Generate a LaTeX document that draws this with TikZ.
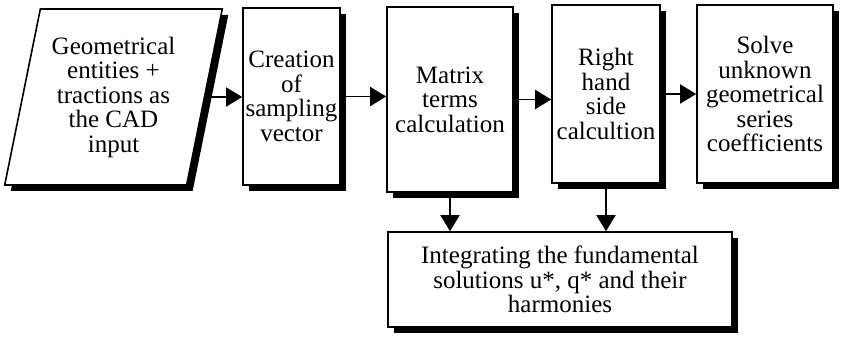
\documentclass[tikz,border=0pt]{standalone}
\usepackage{fontspec}
\setmainfont{Liberation Serif}
\usetikzlibrary{shapes.geometric,arrows.meta,positioning,shadows}

\begin{document}
\begin{tikzpicture}[x=1pt,y=-1pt]
% Define styles
\tikzstyle{base} = [draw=black, line width=1.6pt, fill=white, inner sep=0pt, text centered, align=center, font=\fontsize{25}{24.5}\selectfont, drop shadow={shadow xshift=6pt, shadow yshift=-6pt, opacity=1, fill=black}]
\tikzstyle{process} = [base, rectangle]
\tikzstyle{io} = [base, trapezium, trapezium left angle=76, trapezium right angle=104, trapezium stretches=true]
\tikzstyle{arrow} = [line width=1.6pt, -{Triangle[length=16pt,width=19pt]}]

\useasboundingbox (0,0) rectangle (841,339);

% Draw nodes
\node (cad) [io, minimum width=218pt, minimum height=176pt] at (113.5,97) {Geometrical\\entities +\\tractions as\\the CAD\\input};
\node (creation) [process, minimum width=97pt, minimum height=177pt] at (291.5,96.5) {Creation\\of\\sampling\\vector};
\node (matrix) [process, minimum width=126pt, minimum height=185pt] at (450,99.5) {Matrix\\terms\\calculation};
\node (rhs) [process, minimum width=108pt, minimum height=178pt] at (606,94) {Right\\hand\\side\\calcultion};
\node (solve) [process, minimum width=136pt, minimum height=178pt] at (765,94) {Solve\\unknown\\geometrical\\series\\coefficients};
\node (integ) [process, minimum width=344pt, minimum height=95pt] at (560,279.5) {Integrating the fundamental\\solutions u*, q* and their\\harmonies};

% Draw arrows
\draw [arrow] (cad.east) -- (cad.east -| creation.west);
\draw [arrow] (creation.east) -- (creation.east -| matrix.west);
\draw [arrow] (matrix.east) -- (matrix.east -| rhs.west);
\draw [arrow] (rhs.east) -- (rhs.east -| solve.west);
\draw [arrow] (matrix.south) -- (matrix.south |- integ.north);
\draw [arrow] (rhs.south) -- (rhs.south |- integ.north);
\end{tikzpicture}
\end{document}
